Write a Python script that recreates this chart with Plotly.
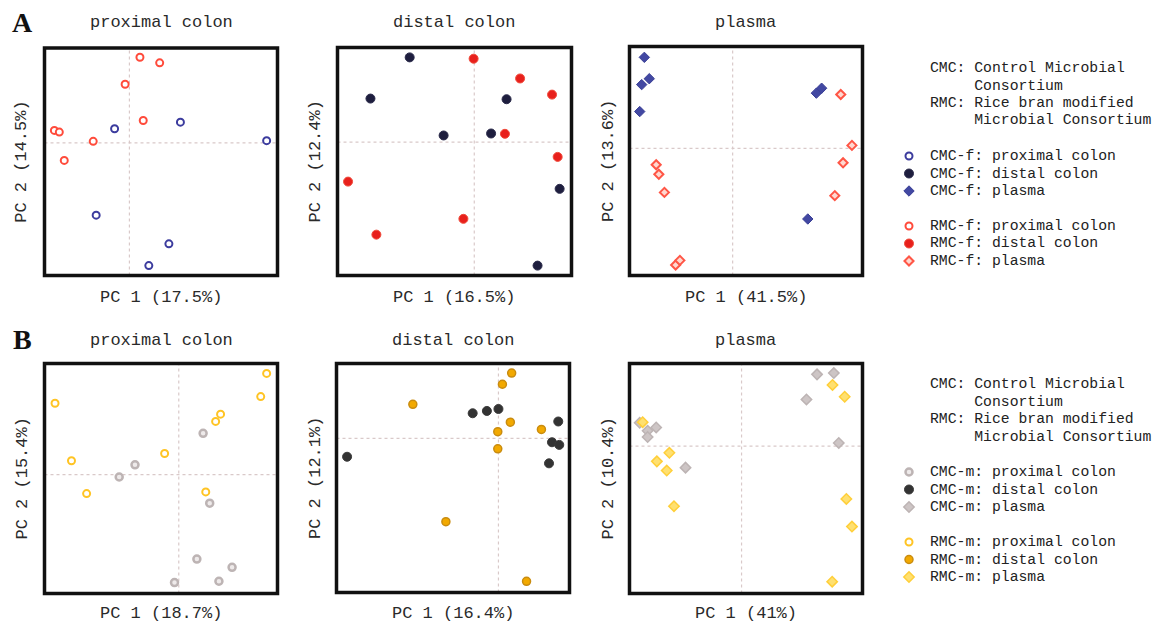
import plotly.graph_objects as go

W, H = 1153, 625
FONT = "Liberation Mono"

# ---------------- data (PC scores, arbitrary units, crosshair at 0) ----------------
# Row A: fecal consortia (-f)
a_prox_rmc_x = [0.32, 0.92, -0.13, 0.42, -2.28, -2.13, -1.10, -1.98]
a_prox_rmc_y = [2.60, 2.43, 1.78, 0.68, 0.38, 0.33, 0.05, -0.53]
a_prox_cmc_x = [-0.45, 1.55, 4.17, -1.01, 1.20, 0.59]
a_prox_cmc_y = [0.43, 0.63, 0.07, -2.19, -3.06, -3.72]

a_dist_cmc_x = [-1.96, -3.15, -0.93, 0.51, 0.98, 2.59, 1.92]
a_dist_cmc_y = [2.57, 1.32, 0.20, 0.26, 1.30, -1.42, -3.75]
a_dist_rmc_x = [-0.02, 1.39, 2.36, 0.93, 2.53, -3.83, -0.33, -2.97]
a_dist_rmc_y = [2.53, 1.93, 1.44, 0.25, -0.45, -1.20, -2.33, -2.81]

a_plas_cmc_x = [-2.68, -2.53, -2.76, -2.82, 2.54, 2.70, 2.28]
a_plas_cmc_y = [2.77, 2.12, 1.94, 1.12, 1.68, 1.83, -2.15]
a_plas_rmc_x = [3.28, 3.62, 3.35, 3.10, -2.32, -2.24, -2.07, -1.73, -1.60]
a_plas_rmc_y = [1.64, 0.09, -0.44, -1.44, -0.50, -0.79, -1.34, -3.55, -3.41]

# Row B: mouse-associated consortia (-m)
b_prox_rmc_x = [2.67, 2.49, 1.27, 1.12, -3.76, -0.43, -3.26, -2.80, 0.82]
b_prox_rmc_y = [3.06, 2.36, 1.83, 1.61, 2.16, 0.64, 0.42, -0.57, -0.52]
b_prox_cmc_x = [0.74, -1.33, -1.81, 0.94, 0.55, 1.62, 1.22, -0.13]
b_prox_cmc_y = [1.25, 0.30, -0.07, -0.86, -2.55, -2.80, -3.22, -3.26]

b_dist_cmc_x = [-0.78, -0.35, 0.00, 1.81, 1.62, 1.84, 1.53, -4.58]
b_dist_cmc_y = [0.76, 0.83, 0.89, 0.51, -0.12, -0.20, -0.76, -0.56]
b_dist_rmc_x = [0.40, 0.12, -2.59, 0.36, 1.30, -0.02, -0.02, -1.59, 0.85]
b_dist_rmc_y = [1.98, 1.64, 1.03, 0.49, 0.27, 0.20, -0.32, -2.53, -4.34]

b_plas_cmc_x = [2.29, 2.80, 1.97, 2.95, -3.09, -2.85, -2.59, -2.85, -1.70]
b_plas_cmc_y = [2.18, 2.22, 1.42, 0.10, 0.71, 0.47, 0.57, 0.28, -0.65]
b_plas_rmc_x = [2.76, 3.13, -3.00, -2.19, -2.57, -2.27, -2.05, 3.18, 3.35, 2.75]
b_plas_rmc_y = [1.86, 1.50, 0.73, -0.20, -0.46, -0.74, -1.82, -1.60, -2.44, -4.11]

panel_titles = ["proximal colon", "distal colon", "plasma"]
x_labels_a = ["PC 1 (17.5%)", "PC 1 (16.5%)", "PC 1 (41.5%)"]
y_labels_a = ["PC 2 (14.5%)", "PC 2 (12.4%)", "PC 2 (13.6%)"]
x_labels_b = ["PC 1 (18.7%)", "PC 1 (16.4%)", "PC 1 (41%)"]
y_labels_b = ["PC 2 (15.4%)", "PC 2 (12.1%)", "PC 2 (10.4%)"]

legend_note = ["CMC: Control Microbial", "     Consortium",
               "RMC: Rice bran modified", "     Microbial Consortium"]
legend_a = ["CMC-f: proximal colon", "CMC-f: distal colon", "CMC-f: plasma",
            "RMC-f: proximal colon", "RMC-f: distal colon", "RMC-f: plasma"]
legend_b = ["CMC-m: proximal colon", "CMC-m: distal colon", "CMC-m: plasma",
            "RMC-m: proximal colon", "RMC-m: distal colon", "RMC-m: plasma"]

# ---------------- styles ----------------
S = {
    "cmcf_prox": dict(symbol="circle", size=7, color="white", line=dict(color="#3c3c9e", width=2)),
    "cmcf_dist": dict(symbol="circle", size=9, color="#1e1e3e", line=dict(color="#2a2a4a", width=1)),
    "cmcf_plas": dict(symbol="diamond", size=8, color="#4248a2", line=dict(color="#3a3f96", width=1)),
    "rmcf_prox": dict(symbol="circle", size=7, color="white", line=dict(color="#ff4b3b", width=2)),
    "rmcf_dist": dict(symbol="circle", size=9, color="#e8201c", line=dict(color="#f04a3a", width=1)),
    "rmcf_plas": dict(symbol="diamond", size=7, color="#ffd8d0", line=dict(color="#ff5646", width=2)),
    "cmcm_prox": dict(symbol="circle", size=7, color="#eeeaea", line=dict(color="#bdb4b4", width=2.5)),
    "cmcm_dist": dict(symbol="circle", size=9, color="#333333", line=dict(color="#3a3a3a", width=1)),
    "cmcm_plas": dict(symbol="diamond", size=8, color="#cdc5c5", line=dict(color="#bdb4b4", width=1.5)),
    "rmcm_prox": dict(symbol="circle", size=7, color="white", line=dict(color="#ffc424", width=2)),
    "rmcm_dist": dict(symbol="circle", size=8, color="#f2a900", line=dict(color="#c98c10", width=1.5)),
    "rmcm_plas": dict(symbol="diamond", size=8, color="#ffe070", line=dict(color="#ffcf3a", width=1.5)),
}

# panel boxes in page pixels: (left, right, top, bottom)
boxes = [
    (44.5, 277.5, 48, 275.5), (337.5, 571.5, 47.5, 275.5), (629.5, 862.5, 46.5, 275.5),
    (44.5, 277.5, 363.5, 593.5), (336.5, 569.5, 363.5, 592.5), (629.5, 862.5, 363.5, 593.5),
]
xranges = [(-2.58, 4.50), (-4.15, 2.95), (-3.13, 3.94), (-4.08, 3.00), (-4.90, 2.15), (-3.40, 3.67)]
yranges = [(-4.02, 2.88), (-4.05, 2.87), (-3.87, 3.10), (-3.59, 3.36), (-4.68, 2.27), (-4.47, 2.51)]

series = [
    [(a_prox_cmc_x, a_prox_cmc_y, "cmcf_prox"), (a_prox_rmc_x, a_prox_rmc_y, "rmcf_prox")],
    [(a_dist_cmc_x, a_dist_cmc_y, "cmcf_dist"), (a_dist_rmc_x, a_dist_rmc_y, "rmcf_dist")],
    [(a_plas_cmc_x, a_plas_cmc_y, "cmcf_plas"), (a_plas_rmc_x, a_plas_rmc_y, "rmcf_plas")],
    [(b_prox_cmc_x, b_prox_cmc_y, "cmcm_prox"), (b_prox_rmc_x, b_prox_rmc_y, "rmcm_prox")],
    [(b_dist_cmc_x, b_dist_cmc_y, "cmcm_dist"), (b_dist_rmc_x, b_dist_rmc_y, "rmcm_dist")],
    [(b_plas_cmc_x, b_plas_cmc_y, "cmcm_plas"), (b_plas_rmc_x, b_plas_rmc_y, "rmcm_plas")],
]

def px(x):
    return x / W

def py(y):
    return 1 - y / H

fig = go.Figure()
layout = dict(width=W, height=H, margin=dict(l=0, r=0, t=0, b=0),
              paper_bgcolor="white", plot_bgcolor="rgba(0,0,0,0)", showlegend=False)
shapes, annotations = [], []
txt = dict(family=FONT, size=17, color="#2a2a2a")

for i, (l, r, t, b) in enumerate(boxes):
    n = i + 1
    xa = "xaxis" if n == 1 else f"xaxis{n}"
    ya = "yaxis" if n == 1 else f"yaxis{n}"
    xr = "x" if n == 1 else f"x{n}"
    yr = "y" if n == 1 else f"y{n}"
    axcommon = dict(showgrid=False, zeroline=False, showticklabels=False, ticks="", showline=False, fixedrange=True)
    layout[xa] = dict(domain=[px(l), px(r)], range=list(xranges[i]), anchor=yr, **axcommon)
    layout[ya] = dict(domain=[py(b), py(t)], range=list(yranges[i]), anchor=xr, **axcommon)
    # dotted crosshair at origin
    shapes.append(dict(type="line", xref=xr, yref=f"{yr} domain", x0=0, x1=0, y0=0, y1=1,
                       line=dict(color="#d9c9c9", width=1.2, dash="dot"), layer="below"))
    shapes.append(dict(type="line", xref=f"{xr} domain", yref=yr, x0=0, x1=1, y0=0, y1=0,
                       line=dict(color="#d9c9c9", width=1.2, dash="dot"), layer="below"))
    # frame
    shapes.append(dict(type="rect", xref=f"{xr} domain", yref=f"{yr} domain", x0=0, x1=1, y0=0, y1=1,
                       line=dict(color="#111111", width=3.5), layer="above"))
    for sx, sy, key in series[i]:
        fig.add_trace(go.Scatter(x=sx, y=sy, mode="markers", marker=S[key], xaxis=xr, yaxis=yr,
                                 hoverinfo="skip"))
    cx = (l + r) / 2
    row_b = i >= 3
    title_y = 340 if row_b else 23
    xl_y = 613 if row_b else 297
    xlab = (x_labels_b if row_b else x_labels_a)[i % 3]
    ylab = (y_labels_b if row_b else y_labels_a)[i % 3]
    annotations.append(dict(text=panel_titles[i % 3], x=px(cx), y=py(title_y), xref="paper", yref="paper",
                            showarrow=False, xanchor="center", yanchor="middle", font=txt))
    annotations.append(dict(text=xlab, x=px(cx), y=py(xl_y), xref="paper", yref="paper",
                            showarrow=False, xanchor="center", yanchor="middle", font=txt))
    ylx = [22, 315, 608][i % 3]
    annotations.append(dict(text=ylab, x=px(ylx), y=py((t + b) / 2), xref="paper", yref="paper",
                            showarrow=False, xanchor="center", yanchor="middle", textangle=-90, font=txt))

# panel letters
for letter, ly in (("A", 22), ("B", 339)):
    annotations.append(dict(text=f"<b>{letter}</b>", x=px(22), y=py(ly), xref="paper", yref="paper",
                            showarrow=False, xanchor="center", yanchor="middle",
                            font=dict(family="Liberation Serif", size=28, color="#111111")))

# ---------------- legends (hidden pixel axis) ----------------
layout["xaxis7"] = dict(domain=[0, 1], range=[0, W], visible=False, fixedrange=True, anchor="y7")
layout["yaxis7"] = dict(domain=[0, 1], range=[H, 0], visible=False, fixedrange=True, anchor="x7")
lfont = dict(family=FONT, size=14.75, color="#222222")
text_x, key_x = 928, 909
for top, labels, keys in ((68, legend_a, ["cmcf_prox", "cmcf_dist", "cmcf_plas", "rmcf_prox", "rmcf_dist", "rmcf_plas"]),
                          (384, legend_b, ["cmcm_prox", "cmcm_dist", "cmcm_plas", "rmcm_prox", "rmcm_dist", "rmcm_plas"])):
    for j, line in enumerate(legend_note):
        annotations.append(dict(text=line.replace(" ", "\u00a0"), x=px(text_x), y=py(top + j * 17.5),
                                xref="paper", yref="paper", showarrow=False, xanchor="left",
                                yanchor="middle", font=lfont))
    for j, (lab, key) in enumerate(zip(labels, keys)):
        yy = top + 88 + j * 17.5 + (17.5 if j >= 3 else 0)
        annotations.append(dict(text=lab, x=px(text_x), y=py(yy), xref="paper", yref="paper",
                                showarrow=False, xanchor="left", yanchor="middle", font=lfont))
        fig.add_trace(go.Scatter(x=[key_x], y=[yy], mode="markers", marker=S[key],
                                 xaxis="x7", yaxis="y7", hoverinfo="skip", cliponaxis=False))

layout["shapes"] = shapes
layout["annotations"] = annotations
fig.update_layout(**layout)
fig.write_html("out.html", config={"displayModeBar": False, "staticPlot": True},
               post_script="document.body.style.margin='0';document.body.style.overflow='hidden';"
                           "document.documentElement.style.overflow='hidden';")
